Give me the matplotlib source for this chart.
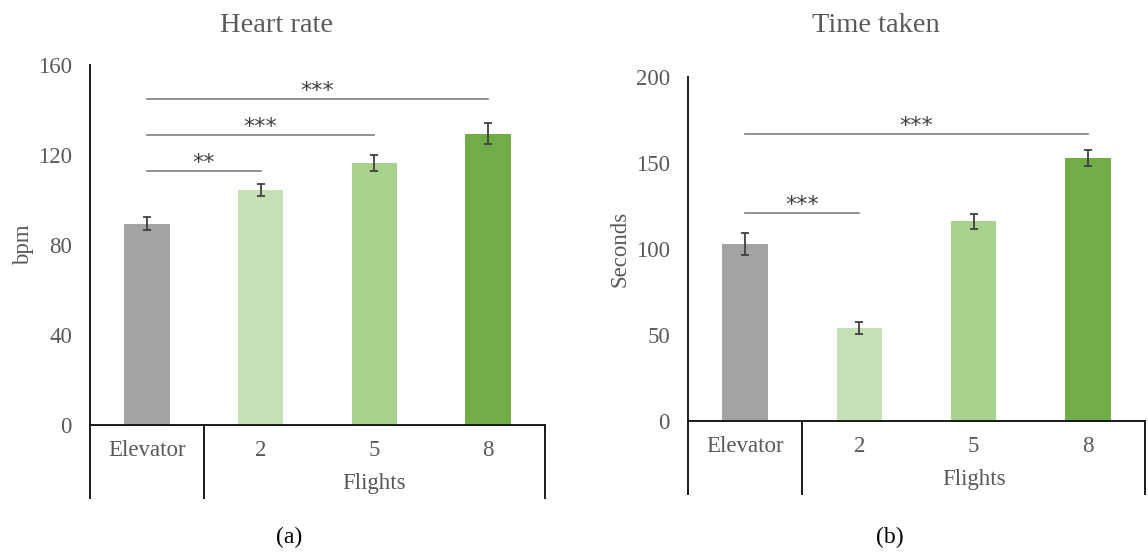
import matplotlib
matplotlib.use("Agg")
import matplotlib.pyplot as plt

plt.rcParams['font.family'] = ['Liberation Serif', 'DejaVu Serif']

categories = ["Elevator", "2", "5", "8"]
group_label = "Flights"
bar_colors = ["#A3A3A3", "#C5E0B4", "#A9D18E", "#70AD47"]

hr_values = [89.5, 104.5, 116.5, 129.5]
hr_errors = [3.0, 2.7, 3.6, 4.8]
hr_ticks = [0, 40, 80, 120, 160]
hr_sig = [(0, 1, 113, "**"), (0, 2, 129, "***"), (0, 3, 145, "***")]

tt_values = [103, 54, 116, 153]
tt_errors = [6.5, 3.6, 4.1, 4.8]
tt_ticks = [0, 50, 100, 150, 200]
tt_sig = [(0, 1, 121, "***"), (0, 3, 167, "***")]

W, H = 1148, 552
DPI = 100
TXT = "#595959"
FS = 16.5

fig = plt.figure(figsize=(W / DPI, H / DPI), dpi=DPI)


def px_axes(x0, y_top, x1, y_bot):
    return fig.add_axes([x0 / W, 1 - y_bot / H, (x1 - x0) / W, (y_bot - y_top) / H])


def draw_panel(ax, values, errors, ticks, sig, title, ylabel, ylabel_x, title_x, sub, sub_x, ax_h):
    x = list(range(len(categories)))
    ax.bar(x, values, width=0.4, color=bar_colors, zorder=2)
    ax.errorbar(x, values, yerr=errors, fmt='none', ecolor='#404040',
                elinewidth=1.3, capsize=3, capthick=1.3, zorder=3)
    ax.set_xlim(-0.5, len(categories) - 0.5)
    ax.set_ylim(ticks[0], ticks[-1])
    ax.set_yticks(ticks)
    ax.set_yticklabels([str(t) for t in ticks])
    ax.tick_params(axis='y', length=0, pad=13, labelsize=FS, labelcolor=TXT)
    ax.set_xticks([])
    for s in ['top', 'right', 'bottom', 'left']:
        ax.spines[s].set_visible(False)
    ax.set_ylabel(ylabel, fontsize=FS, color=TXT)
    ax.yaxis.set_label_coords(ylabel_x, 0.5)

    tr = ax.get_xaxis_transform()
    below = 73 / ax_h
    ax.plot([-0.5, len(categories) - 0.5], [0, 0], transform=tr, color='#1a1a1a',
            lw=1.4, clip_on=False, zorder=4)
    ax.plot([-0.5, -0.5], [1, -below], transform=tr, color='#1a1a1a', lw=1.4,
            clip_on=False, zorder=4)
    for xv in [0.5, len(categories) - 0.5]:
        ax.plot([xv, xv], [0, -below], transform=tr, color='#1a1a1a', lw=1.4,
                clip_on=False, zorder=4)
    for i, c in enumerate(categories):
        ax.annotate(c, xy=(i, 0), xycoords=tr, xytext=(0, -25),
                    textcoords='offset pixels', ha='center', va='center',
                    fontsize=FS, color=TXT, annotation_clip=False)
    ax.annotate(group_label, xy=(2, 0), xycoords=tr, xytext=(0, -59),
                textcoords='offset pixels', ha='center', va='center',
                fontsize=FS, color=TXT, annotation_clip=False)

    for a, b, yv, lab in sig:
        ax.plot([a, b], [yv, yv], color='#7F7F7F', lw=1.2, zorder=2)
        ax.annotate(lab, xy=((a + b) / 2, yv), xytext=(0, -2),
                    textcoords='offset pixels', ha='center', va='bottom',
                    fontsize=16, color='#404040', family=['DejaVu Sans'])

    fig.text(title_x / W, 1 - 25 / H, title, ha='center', va='center',
             fontsize=20.5, color=TXT)
    fig.text(sub_x / W, 1 - 537 / H, sub, ha='center', va='center',
             fontsize=17, color='#000000')


ax1 = px_axes(90, 65, 545, 425)
draw_panel(ax1, hr_values, hr_errors, hr_ticks, hr_sig, "Heart rate", "bpm", -0.123,
           277, "(a)", 289, 360)

ax2 = px_axes(688, 77, 1145, 421)
draw_panel(ax2, tt_values, tt_errors, tt_ticks, tt_sig, "Time taken", "Seconds", -0.126,
           876, "(b)", 890, 344)

fig.savefig("out.png", dpi=DPI)
